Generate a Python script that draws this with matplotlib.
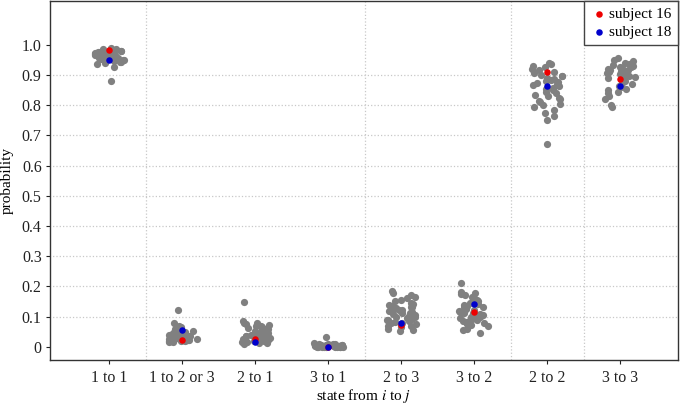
import numpy as np
import pandas as pd
import seaborn as sns
import matplotlib
matplotlib.use("Agg")
from matplotlib import pyplot as plt

# transition categories
categories = ["1 to 1", "1 to 2 or 3", "2 to 1", "3 to 1",
              "2 to 3", "3 to 2", "2 to 2", "3 to 3"]

# per-subject probabilities
one_to_one = [0.99, 0.985, 0.985, 0.98, 0.98, 0.978, 0.975, 0.975, 0.973, 0.972,
              0.97, 0.97, 0.97, 0.968, 0.966, 0.965, 0.965, 0.963, 0.962, 0.96,
              0.96, 0.96, 0.958, 0.957, 0.955, 0.955, 0.953, 0.952, 0.95, 0.95,
              0.948, 0.946, 0.944, 0.942, 0.94, 0.938, 0.926, 0.88]
one_to_23 = [0.122, 0.078, 0.07, 0.065, 0.06, 0.058, 0.055, 0.052, 0.05, 0.048,
             0.046, 0.045, 0.044, 0.042, 0.04, 0.04, 0.038, 0.036, 0.035, 0.034,
             0.033, 0.032, 0.031, 0.03, 0.03, 0.029, 0.028, 0.027, 0.026, 0.025,
             0.025, 0.024, 0.023, 0.022, 0.021, 0.02, 0.02, 0.018, 0.017, 0.015]
two_to_1 = [0.149, 0.085, 0.08, 0.078, 0.075, 0.072, 0.07, 0.068, 0.065, 0.062,
            0.06, 0.058, 0.055, 0.052, 0.05, 0.048, 0.046, 0.045, 0.043, 0.04,
            0.038, 0.036, 0.035, 0.033, 0.031, 0.03, 0.028, 0.026, 0.025, 0.024,
            0.022, 0.02, 0.02, 0.018, 0.017, 0.015, 0.014, 0.013, 0.012, 0.01]
three_to_1 = [0.032, 0.012, 0.01, 0.009, 0.008, 0.008, 0.007, 0.006, 0.006, 0.005,
              0.005, 0.005, 0.004, 0.004, 0.004, 0.003, 0.003, 0.003, 0.003, 0.002,
              0.002, 0.002, 0.002, 0.002, 0.001, 0.001, 0.001, 0.001, 0.001, 0.001,
              0.0, 0.0, 0.0, 0.0, 0.0, 0.0, 0.0, 0.0, 0.0, 0.0]
two_to_3 = [0.184, 0.178, 0.172, 0.165, 0.16, 0.155, 0.15, 0.145, 0.14, 0.138,
            0.135, 0.132, 0.13, 0.128, 0.125, 0.122, 0.12, 0.118, 0.115, 0.112,
            0.11, 0.108, 0.105, 0.102, 0.1, 0.098, 0.095, 0.092, 0.09, 0.088,
            0.085, 0.082, 0.08, 0.078, 0.075, 0.072, 0.07, 0.068, 0.065, 0.06,
            0.056, 0.052]
three_to_2 = [0.21, 0.18, 0.178, 0.176, 0.17, 0.165, 0.16, 0.155, 0.15, 0.146,
              0.142, 0.138, 0.135, 0.132, 0.13, 0.127, 0.124, 0.12, 0.118, 0.115,
              0.112, 0.11, 0.108, 0.105, 0.102, 0.1, 0.098, 0.095, 0.092, 0.09,
              0.088, 0.085, 0.082, 0.08, 0.076, 0.072, 0.068, 0.06, 0.055, 0.046]
two_to_2 = [0.94, 0.935, 0.93, 0.925, 0.92, 0.915, 0.91, 0.905, 0.9, 0.898,
            0.895, 0.89, 0.887, 0.884, 0.88, 0.877, 0.874, 0.87, 0.866, 0.862,
            0.858, 0.855, 0.85, 0.845, 0.84, 0.835, 0.83, 0.825, 0.82, 0.815,
            0.81, 0.805, 0.8, 0.795, 0.785, 0.775, 0.765, 0.75, 0.673]
three_to_3 = [0.957, 0.95, 0.945, 0.94, 0.938, 0.935, 0.932, 0.93, 0.928, 0.925,
              0.922, 0.92, 0.918, 0.915, 0.912, 0.91, 0.908, 0.905, 0.902, 0.9,
              0.897, 0.894, 0.89, 0.887, 0.884, 0.88, 0.877, 0.874, 0.87, 0.865,
              0.86, 0.855, 0.85, 0.845, 0.84, 0.83, 0.82, 0.8, 0.793]

subject_16 = [0.982, 0.022, 0.025, 0.0, 0.072, 0.116, 0.911, 0.886]
subject_18 = [0.949, 0.054, 0.015, 0.0, 0.077, 0.141, 0.863, 0.863]

yticks = [0, 0.1, 0.2, 0.3, 0.4, 0.5, 0.6, 0.7, 0.8, 0.9, 1.0]
ytick_labels = ["0", "0.1", "0.2", "0.3", "0.4", "0.5", "0.6", "0.7", "0.8", "0.9", "1.0"]

all_series = [one_to_one, one_to_23, two_to_1, three_to_1,
              two_to_3, three_to_2, two_to_2, three_to_3]
df = pd.DataFrame({
	"state": [c for c, vals in zip(categories, all_series) for _ in vals],
	"prob": [v for vals in all_series for v in vals],
})

plt.rcParams["font.family"] = ["Liberation Serif", "DejaVu Serif"]
plt.rcParams["mathtext.fontset"] = "stix"

fig = plt.figure(figsize=(6.8, 4.07), dpi=100)
ax = fig.add_axes([0.0735, 0.1155, 0.9235, 0.882])

# grid: horizontal at each 0.1, vertical between selected groups
ax.hlines(yticks[1:-1], -1, 8, colors="#c8c8c8", linestyles=":", linewidth=0.9, zorder=0)
for xb in [0.5, 3.5, 5.5, 6.5]:
	ax.axvline(xb, color="#c8c8c8", linestyle=":", linewidth=0.9, zorder=0)

np.random.seed(3)
sns.stripplot(data=df, x="state", y="prob", order=categories, color="#808080",
              jitter=0.21, size=5.2, linewidth=0, ax=ax, zorder=2)

xs = np.arange(len(categories))
ax.scatter(xs, subject_16, s=22, color="#ee0000", linewidth=0, zorder=4, label="subject 16")
ax.scatter(xs, subject_18, s=22, color="#0000cc", linewidth=0, zorder=5, label="subject 18")

ax.set_xlim(-0.81, 7.79)
ax.set_ylim(-0.044, 1.145)
ax.set_yticks(yticks)
ax.set_yticklabels(ytick_labels)
ax.set_xticks(xs)
ax.set_xticklabels(categories)
ax.tick_params(direction="out", length=3, width=0.8, labelsize=11.5, colors="#222222", pad=3)
ax.tick_params(axis="x", pad=4)
for sp in ax.spines.values():
	sp.set_color("#333333")
	sp.set_linewidth(1.0)

ax.set_xlabel(r"state from $i$ to $j$", fontsize=11, labelpad=1)
ax.set_ylabel("probability", fontsize=11, labelpad=6)

leg = ax.legend(loc="upper right", fontsize=11, frameon=True, fancybox=False,
                framealpha=1, edgecolor="#444444", handletextpad=0.1,
                borderaxespad=0.0, borderpad=0.4, labelspacing=0.3,
                markerscale=1.0, handlelength=1.2)
leg.get_frame().set_linewidth(1.0)

fig.savefig("out.png", dpi=100)
